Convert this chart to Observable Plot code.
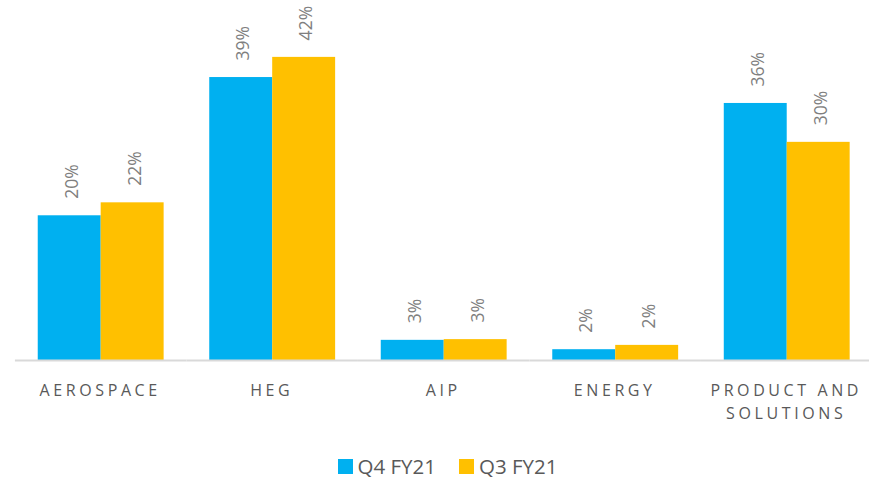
<!DOCTYPE html>
<html><head><meta charset="utf-8">
<script src="https://cdn.jsdelivr.net/npm/d3@7"></script>
<script src="https://cdn.jsdelivr.net/npm/@observablehq/plot@0.6"></script>
<style>
body{margin:0;background:#fff;font-family:"Open Sans",sans-serif;}
#chart svg g[aria-label="fx-axis tick label"] text{letter-spacing:3.6px;}
#legend{display:flex;justify-content:center;align-items:center;margin-top:22px;padding-left:26px;font-size:20.5px;color:#595959;gap:23px;line-height:28px;}
#legend .item{display:flex;align-items:center;gap:5px;}
#legend .sw{width:15px;height:15px;display:inline-block;}
</style></head><body>
<div id="chart"></div>
<div id="legend"></div>
<script>
const categories = ["AEROSPACE", "HEG", "AIP", "ENERGY", "PRODUCT AND\nSOLUTIONS"];
const series = ["Q4 FY21", "Q3 FY21"];
const q4Values = [20.1, 39.3, 2.8, 1.5, 35.7];
const q3Values = [21.9, 42.1, 2.9, 2.1, 30.3];
const q4Labels = ["20%", "39%", "3%", "2%", "36%"];
const q3Labels = ["22%", "42%", "3%", "2%", "30%"];
const colors = ["#00B0F0", "#FFC000"];

const data = [];
categories.forEach((c, i) => {
  data.push({category: c, series: series[0], value: q4Values[i], label: q4Labels[i]});
  data.push({category: c, series: series[1], value: q3Values[i], label: q3Labels[i]});
});

const W = 869, ML = 18.7, MR = 0.3, PI = 0.266, PO = 0.111;
const step = (W - ML - MR) / (categories.length - PI + 2 * PO);
const gapHalf = PI * step / 2;

const plot = Plot.plot({
  width: W, height: 430,
  marginLeft: ML, marginRight: MR, marginTop: 0, marginBottom: 70,
  style: {fontFamily: "Open Sans", background: "#fff", overflow: "visible"},
  fx: {domain: categories, paddingInner: PI, paddingOuter: PO, round: false, label: null},
  x: {domain: series, padding: 0, round: false, axis: null},
  y: {domain: [0, 50], axis: null},
  color: {domain: series, range: colors},
  marks: [
    Plot.barY(data, {fx: "category", x: "series", y: "value", fill: "series"}),
    Plot.text(data, {fx: "category", x: "series", y: "value", text: "label", rotate: -90,
      textAnchor: "start", lineAnchor: "middle", dy: -17, dx: 2.5, fill: "#7f7f7f", fontSize: 17.5}),
    Plot.ruleY([0], {stroke: "#d9d9d9", strokeWidth: 2, insetLeft: -gapHalf, insetRight: -gapHalf}),
    Plot.axisFx({anchor: "bottom", tickSize: 0, tickPadding: 19, fontSize: 16, lineHeight: 1.44,
      fill: "#595959", label: null, dx: -1})
  ]
});
document.getElementById("chart").appendChild(plot);

const legend = document.getElementById("legend");
series.forEach((s, i) => {
  const item = document.createElement("div");
  item.className = "item";
  const sw = document.createElement("span");
  sw.className = "sw";
  sw.style.background = colors[i];
  const t = document.createElement("span");
  t.textContent = s;
  item.appendChild(sw); item.appendChild(t);
  legend.appendChild(item);
});
</script>
</body></html>
